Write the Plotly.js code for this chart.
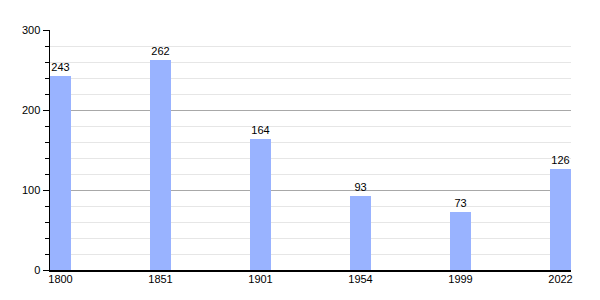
<!DOCTYPE html>
<html><head><meta charset="utf-8">
<script src="https://cdn.plot.ly/plotly-3.0.1.min.js"></script>
<style>body{margin:0}#c{width:600px;height:300px}</style>
</head><body><div id="c"></div>
<script>
const years = ['1800','1851','1901','1954','1999','2022'];
const population = [243, 262, 164, 93, 73, 126];

Plotly.newPlot('c', [{
  type: 'bar',
  x: years,
  y: population,
  width: 0.21,
  marker: {color: '#99b3ff', line: {width: 0}},
  text: population.map(String),
  textposition: 'outside',
  textfont: {family: 'Liberation Sans, Arial, sans-serif', size: 11, color: '#000'},
  cliponaxis: false,
  hoverinfo: 'none'
}], {
  width: 600, height: 300,
  margin: {l: 50, r: 29, t: 30, b: 30},
  paper_bgcolor: '#fff', plot_bgcolor: '#fff',
  showlegend: false,
  font: {family: 'Liberation Sans, Arial, sans-serif', size: 11, color: '#000'},
  xaxis: {
    type: 'category',
    range: [-0.105, 5.105],
    showgrid: false, zeroline: false,
    showline: true, linecolor: '#000', linewidth: 1.5,
    ticks: '', ticklen: 0, ticklabelstandoff: -2
  },
  yaxis: {
    range: [0, 300], dtick: 100, tick0: 0,
    showgrid: true, gridcolor: '#a8a8a8', gridwidth: 1,
    zeroline: false,
    showline: true, linecolor: '#000', linewidth: 1.5,
    ticks: 'outside', ticklen: 6, tickcolor: '#000', tickwidth: 1,
    minor: {dtick: 20, showgrid: true, gridcolor: '#e6e6e6', gridwidth: 1, ticks: 'outside', ticklen: 4, tickcolor: '#000'}
  },
  bargap: 0
}, {staticPlot: true});
</script></body></html>
